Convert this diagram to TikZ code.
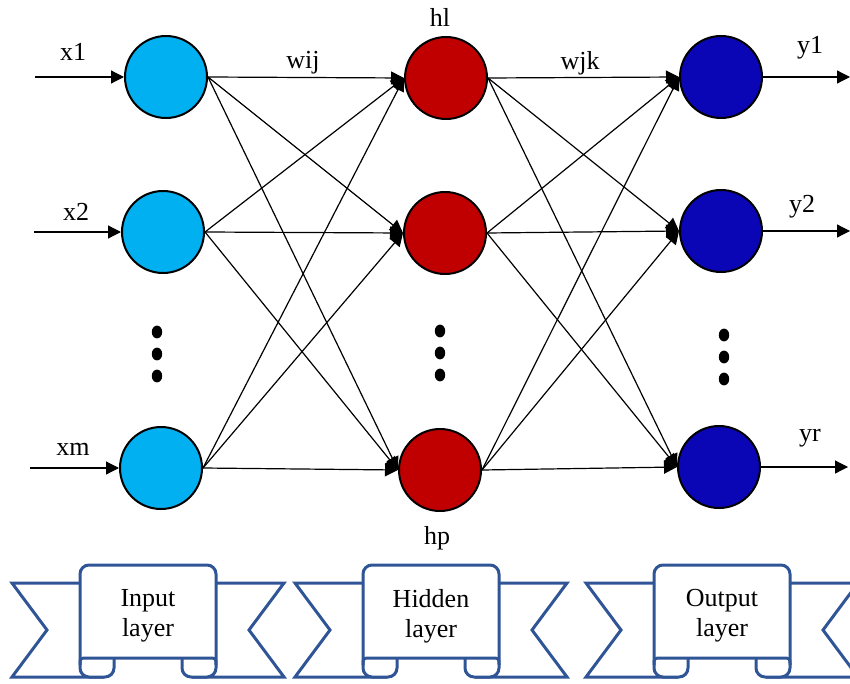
\documentclass[tikz,border=0pt]{standalone}
\usepackage{fontspec}
\setmainfont{Liberation Serif}
\usepackage{tikz}
\usetikzlibrary{arrows.meta}
\definecolor{inblue}{RGB}{0,176,240}
\definecolor{hidred}{RGB}{192,0,0}
\definecolor{outblue}{RGB}{10,6,182}
\definecolor{banblue}{RGB}{47,85,151}
\tikzset{
  neuron/.style={circle, draw=black, line width=1pt, minimum size=41pt,
                 inner sep=0pt, fill=#1},
  arr/.style={-{Triangle[length=6.5pt, width=6.5pt]}, line width=0.6pt},
  lbl/.style={font=\fontsize{13}{15}\selectfont, inner sep=1pt},
  ribbonline/.style={draw=banblue, line width=1.5pt, line join=miter},
  ribbon/.pic={
    % tails
    \draw[ribbonline] (-68,-37) -- (-136,-37) -- (-101,10) -- (-136,57) -- (-44,57);
    \draw[ribbonline] (68,-37) -- (136,-37) -- (101,10) -- (136,57) -- (44,57);
    % panel with the two curls
    \draw[ribbonline, fill=white, rounded corners=4.5pt]
      (-34,38) -- (-34,57) -- (-68,57) -- (-68,-55) -- (68,-55)
      -- (68,57) -- (34,57) -- (34,38);
    \draw[ribbonline] (-68,45) .. controls (-68,38) .. (-60,38)
      -- (60,38) .. controls (68,38) .. (68,45);
    \node[lbl, align=center] (-text) at (0,-4) {#1};
  },
}
\begin{document}
\begin{tikzpicture}[x=0.5pt, y=-0.5pt]
  \useasboundingbox (0,0) rectangle (850,684);
  % neurons
  \node[neuron=inblue] (i1) at (166,77) {};
  \node[neuron=inblue] (i2) at (163,232) {};
  \node[neuron=inblue] (i3) at (161,468) {};
  \node[neuron=hidred] (h1) at (446,78) {};
  \node[neuron=hidred] (h2) at (445,233) {};
  \node[neuron=hidred] (h3) at (440,470) {};
  \node[neuron=outblue] (o1) at (721,77) {};
  \node[neuron=outblue] (o2) at (721,231) {};
  \node[neuron=outblue] (o3) at (719,467) {};
  % vertical dots
  \foreach \x/\y in {157/332, 440/331, 724/335}
    \foreach \k in {0,1,2}
      \fill (\x,\y+22*\k) ellipse (2.6pt and 3.2pt);
  % inputs and outputs
  \coordinate (in1) at (35,77);
  \coordinate (in2) at (34,232);
  \coordinate (in3) at (30,468);
  \coordinate (out1) at (850,77);
  \coordinate (out2) at (850,231);
  \coordinate (out3) at (848,467);
  \draw[arr] (in1) -- (i1.west);
  \draw[arr] (in2) -- (i2.west);
  \draw[arr] (in3) -- (i3.west);
  \draw[arr] (o1.east) -- (out1);
  \draw[arr] (o2.east) -- (out2);
  \draw[arr] (o3.east) -- (out3);
  % weights
  \foreach \a in {i1,i2,i3}
    \foreach \b in {h1,h2,h3}
      \draw[arr] (\a.east) -- (\b.west);
  \foreach \a in {h1,h2,h3}
    \foreach \b in {o1,o2,o3}
      \draw[arr] (\a.east) -- (\b.west);
  % labels
  \node[lbl] (x1lbl) at (73,52) {x1};
  \node[lbl] (x2lbl) at (76,212) {x2};
  \node[lbl] (xmlbl) at (73,449) {xm};
  \node[lbl] (wijlbl) at (303,63) {wij};
  \node[lbl] (wjklbl) at (580,63) {wjk};
  \node[lbl] (hllbl) at (440,17) {hl};
  \node[lbl] (hplbl) at (437,538) {hp};
  \node[lbl] (y1lbl) at (810,48) {y1};
  \node[lbl] (y2lbl) at (802,207) {y2};
  \node[lbl] (yrlbl) at (810,438) {yr};
  % layer banners
  \pic (inban) at (148,620) {ribbon={Input\\layer}};
  \pic (hidban) at (431,620) {ribbon={Hidden\\layer}};
  \pic (outban) at (722,620) {ribbon={Output\\layer}};
\end{tikzpicture}
\end{document}
